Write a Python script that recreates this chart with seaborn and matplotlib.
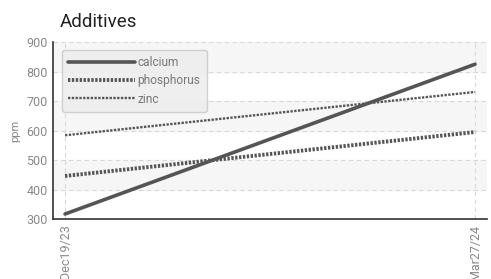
import pandas as pd
import numpy as np
import matplotlib
matplotlib.use("Agg")
import matplotlib.pyplot as plt
import seaborn as sns

dates = ["2023-12-19", "2024-03-27"]
tick_labels = ["Dec19/23", "Mar27/24"]
calcium = [317, 825]
phosphorus = [446, 595]
zinc = [584, 731]

df = pd.DataFrame({
    "date": pd.to_datetime(dates).tolist() * 3,
    "ppm": calcium + phosphorus + zinc,
    "additive": ["calcium"] * 2 + ["phosphorus"] * 2 + ["zinc"] * 2,
})

sns.set_style("white")
plt.rcParams['font.family'] = ['Roboto', 'DejaVu Sans']

fig = plt.figure(figsize=(4.91, 2.79), dpi=100)
ax = fig.add_axes([0.108, 0.215, 0.884, 0.634])

# alternating bands
for lo in [400, 600, 800]:
    ax.axhspan(lo, lo + 100, color="#f6f6f6", zorder=0)

styles = {"calcium": (2.6, "-"), "phosphorus": (2.8, (0, (0.6, 0.4))), "zinc": (1.7, (0, (1, 0.6)))}
for name, grp in df.groupby("additive"):
    lw, ls = styles[name]
    sns.lineplot(data=grp, x="date", y="ppm", ax=ax, color="#555555", lw=lw,
                 linestyle=ls, label=name)

d = pd.to_datetime(dates)
pad = pd.Timedelta(days=2.9)
ax.set_xlim(d[0] - pad, d[1] + pad)
ax.set_ylim(300, 900)
ax.set_yticks(range(300, 901, 100))
ax.set_xticks(d)
ax.set_xticklabels(tick_labels, rotation=90)
ax.grid(True, axis="both", color="#d8d8d8", linestyle=(0, (4, 3)), lw=0.8)
ax.set_axisbelow(True)

for s in ["top", "right"]:
    ax.spines[s].set_visible(False)
ax.spines["left"].set_color("#333333")
ax.spines["bottom"].set_color("#333333")
ax.spines["left"].set_linewidth(1.2)
ax.spines["bottom"].set_linewidth(1.2)
ax.tick_params(axis="both", direction="inout", length=6, width=1, color="#333333",
               labelcolor="#888888", labelsize=9, pad=1)

ax.set_xlabel("")
ax.set_ylabel("ppm", color="#888888", fontsize=8, labelpad=4)
ax.set_title("Additives", loc="left", fontsize=13.5, x=0.016, pad=11, color="#222222")

leg = ax.legend(loc="upper left", bbox_to_anchor=(0.008, 0.99), frameon=True, fancybox=True,
                fontsize=8.6, handlelength=5.6, handletextpad=0.2, labelspacing=0.45,
                borderpad=0.5, labelcolor="#777777")
leg.get_frame().set_facecolor("#eeeeee")
leg.get_frame().set_edgecolor("#cccccc")
leg.get_frame().set_alpha(0.9)

fig.savefig("out.png", dpi=100)
